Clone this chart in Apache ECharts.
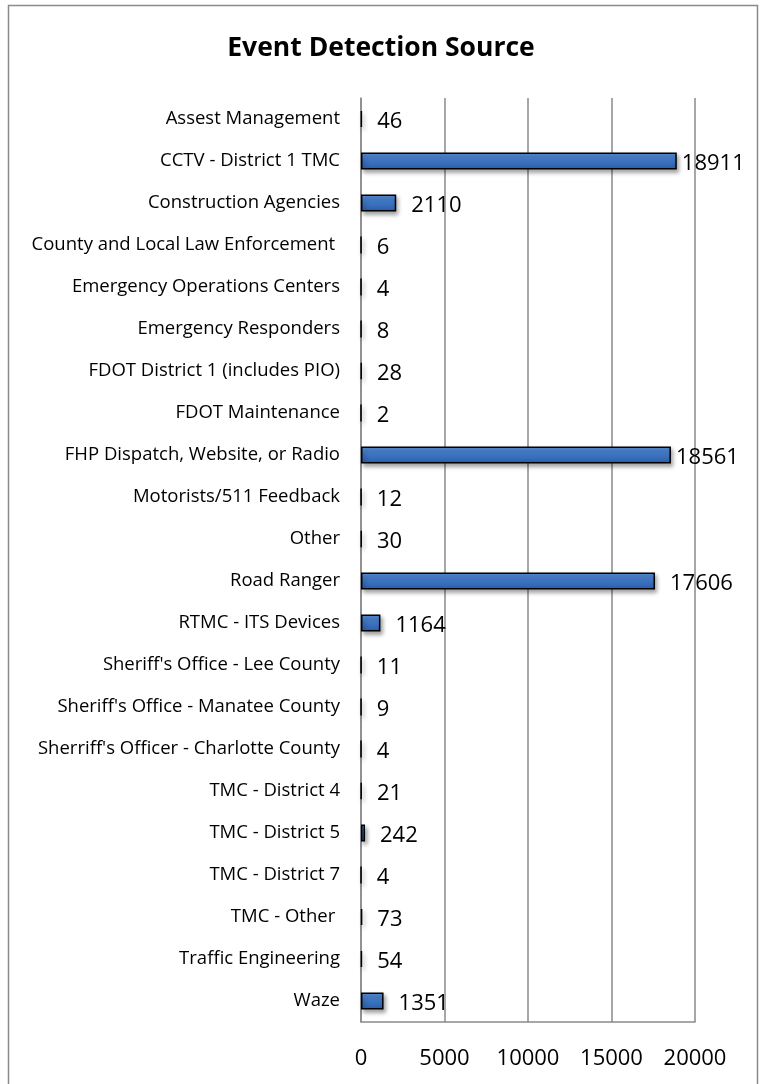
<!DOCTYPE html>
<html>
<head>
<meta charset="utf-8">
<script src="https://cdn.jsdelivr.net/npm/echarts@6/dist/echarts.min.js"></script>
<style>
  html, body { margin: 0; padding: 0; background: #ffffff; }
  #chart { width: 762px; height: 1084px; }
</style>
</head>
<body>
<div id="chart"></div>
<script>
const titleText = 'Event Detection Source';
const categories = [
  'Assest Management',
  'CCTV - District 1 TMC',
  'Construction Agencies',
  'County and Local Law Enforcement ',
  'Emergency Operations Centers',
  'Emergency Responders',
  'FDOT District 1 (includes PIO)',
  'FDOT Maintenance',
  'FHP Dispatch, Website, or Radio',
  'Motorists/511 Feedback',
  'Other',
  'Road Ranger',
  'RTMC - ITS Devices',
  "Sheriff's Office - Lee County",
  "Sheriff's Office - Manatee County",
  "Sherriff's Officer - Charlotte County",
  'TMC - District 4',
  'TMC - District 5',
  'TMC - District 7',
  'TMC - Other ',
  'Traffic Engineering',
  'Waze'
];
const values = [46, 18911, 2110, 6, 4, 8, 28, 2, 18561, 12, 30, 17606, 1164, 11, 9, 4, 21, 242, 4, 73, 54, 1351];
const xTicks = { min: 0, max: 20000, interval: 5000 };

const FONT = '"Open Sans", Lato, sans-serif';
const chart = echarts.init(document.getElementById('chart'), null, { renderer: 'canvas' });

const seriesData = values.map(v => ({
  value: v,
  label: { distance: v > 18000 ? 5 : 15 }
}));

chart.setOption({
  animation: false,
  backgroundColor: '#ffffff',
  title: {
    text: titleText,
    left: 'center',
    top: 30,
    textStyle: { fontFamily: FONT, fontWeight: 'bold', fontSize: 26.5, color: '#000' }
  },
  graphic: [{
    type: 'rect',
    shape: { x: 8.5, y: 5.5, width: 749, height: 1100 },
    style: { fill: 'none', stroke: '#8a8a8a', lineWidth: 1.5 },
    silent: true
  }],
  grid: { left: 361, right: 67, top: 98, bottom: 62, containLabel: false },
  xAxis: {
    type: 'value',
    min: xTicks.min,
    max: xTicks.max,
    interval: xTicks.interval,
    axisLine: { show: true, lineStyle: { color: '#8a8a8a', width: 1.5 } },
    axisTick: { show: false },
    splitLine: { show: true, lineStyle: { color: '#8a8a8a', width: 1.5 } },
    axisLabel: { fontFamily: FONT, fontSize: 22, color: '#000', margin: 26, formatter: v => String(v) }
  },
  yAxis: {
    type: 'category',
    inverse: true,
    data: categories,
    axisLine: { show: true, lineStyle: { color: '#8a8a8a', width: 1.5 } },
    axisTick: { show: false },
    axisLabel: { fontFamily: FONT, fontSize: 18.5, color: '#000', margin: 21 }
  },
  series: [{
    type: 'bar',
    data: seriesData,
    barWidth: 17,
    itemStyle: {
      color: new echarts.graphic.LinearGradient(0, 0, 0, 1, [
        { offset: 0, color: '#5b93dc' },
        { offset: 0.5, color: '#3c74c2' },
        { offset: 1, color: '#2b5ea8' }
      ]),
      borderColor: '#000',
      borderWidth: 1.5,
      shadowColor: 'rgba(0,0,0,0.35)',
      shadowBlur: 4,
      shadowOffsetX: 2,
      shadowOffsetY: 3
    },
    label: {
      show: true,
      position: 'right',
      fontFamily: FONT,
      fontSize: 22,
      color: '#000',
      offset: [0, 3]
    }
  }]
});
</script>
</body>
</html>
